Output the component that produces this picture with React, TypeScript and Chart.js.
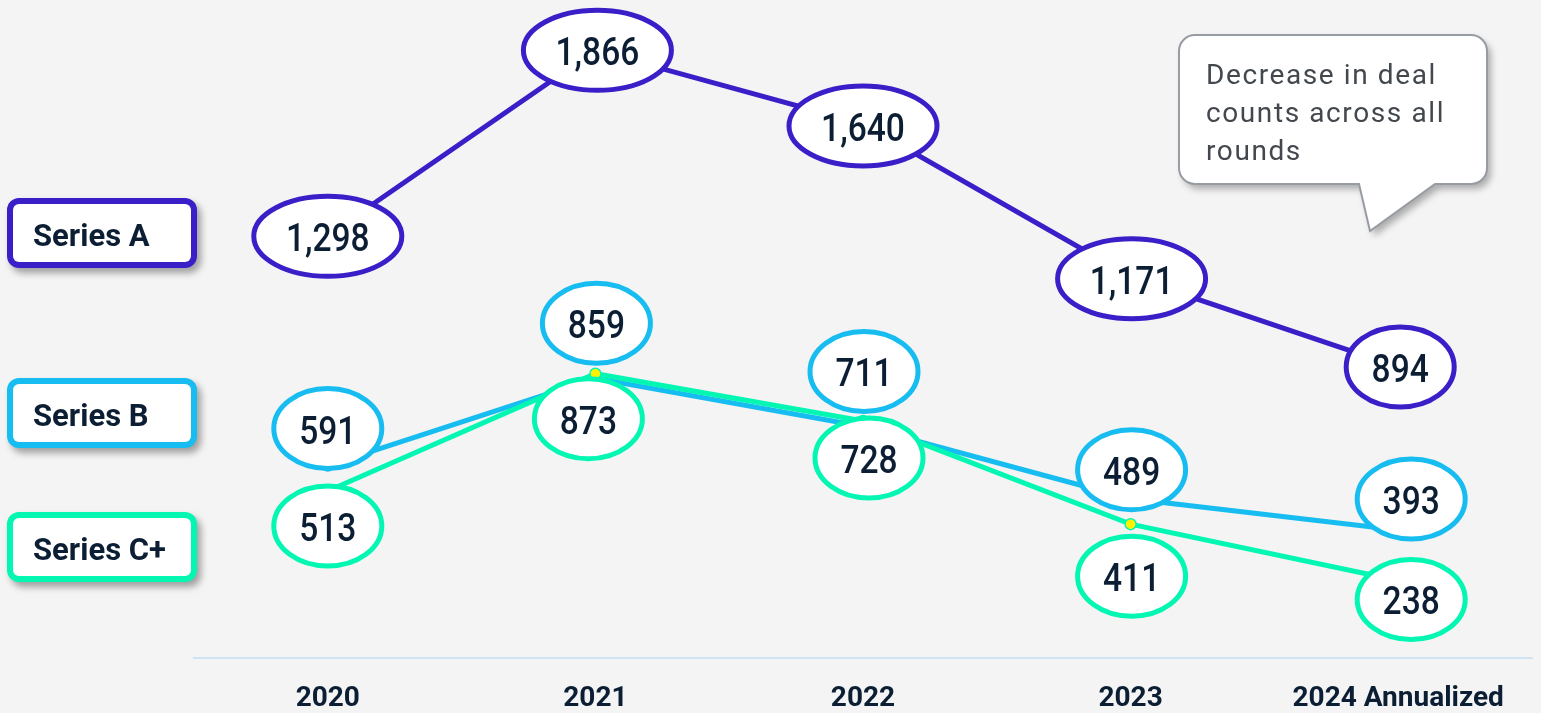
import React, { useEffect, useRef } from "react";
import { Chart, registerables } from "chart.js";

Chart.register(...registerables);

// ---------- data ----------
const categories = ["2020", "2021", "2022", "2023", "2024 Annualized"];
const seriesNames = ["Series A", "Series B", "Series C+"];
const seriesA = [1298, 1866, 1640, 1171, 894];
const seriesB = [591, 859, 711, 489, 393];
const seriesC = [513, 873, 728, 411, 238];
const calloutLines = ["Decrease in deal", "counts across all", "rounds"];

// ---------- layout / style ----------
const COLORS = ["#3a1ec8", "#17bdf0", "#03f7b3"];
const TEXT_DARK = "#0c1e33";
const BG = "#f4f4f4";
// label bubble offsets (px) from each plotted point
const labelOffsetsA = [[0, 1], [2, 0], [0, 2], [1, 2], [2, 0]];
const labelOffsetsB = [[0, -37], [1, -55], [1, -55], [1, -29], [13, -31]];
const labelOffsetsC = [[0, 35], [-7, 45], [6, 37], [1, 52], [13, 19]];
const legendTops = [198, 378, 512];
const X_AXIS_HEIGHT = 55;

const offsetsByName: Record<string, number[][]> = {
  [seriesNames[0]]: labelOffsetsA,
  [seriesNames[1]]: labelOffsetsB,
  [seriesNames[2]]: labelOffsetsC,
};
const colorByName: Record<string, string> = {
  [seriesNames[0]]: COLORS[0],
  [seriesNames[1]]: COLORS[1],
  [seriesNames[2]]: COLORS[2],
};

const fmt = (v: number) => v.toLocaleString("en-US");

const bubblePlugin = {
  id: "bubbles",
  afterDatasetsDraw(chart: any) {
    const ctx: CanvasRenderingContext2D = chart.ctx;
    const order = [seriesNames[0], seriesNames[1], seriesNames[2]];
    order.forEach((name) => {
      const dsIndex = chart.data.datasets.findIndex((d: any) => d.label === name);
      if (dsIndex < 0) return;
      const meta = chart.getDatasetMeta(dsIndex);
      const data = chart.data.datasets[dsIndex].data as number[];
      const offs = offsetsByName[name];
      const color = colorByName[name];
      meta.data.forEach((pt: any, i: number) => {
        const text = fmt(data[i]);
        const cx = pt.x + offs[i][0];
        const cy = pt.y + offs[i][1];
        const rx = text.length > 3 ? 74 : 54;
        const ry = 40;
        ctx.save();
        ctx.beginPath();
        ctx.ellipse(cx, cy, rx, ry, 0, 0, Math.PI * 2);
        ctx.fillStyle = "#ffffff";
        ctx.fill();
        ctx.lineWidth = 5;
        ctx.strokeStyle = color;
        ctx.stroke();
        ctx.fillStyle = TEXT_DARK;
        ctx.font = "500 39px Roboto";
        ctx.textAlign = "center";
        ctx.textBaseline = "alphabetic";
        const w = ctx.measureText(text).width;
        ctx.fillText(text, cx, cy + 15, w * 0.86);
        ctx.restore();
      });
    });
  },
};

const decorPlugin = {
  id: "decor",
  afterDraw(chart: any) {
    const ctx: CanvasRenderingContext2D = chart.ctx;
    // legend boxes
    seriesNames.forEach((name, i) => {
      const top = legendTops[i];
      ctx.save();
      ctx.shadowColor = "rgba(0,0,0,0.35)";
      ctx.shadowBlur = 7;
      ctx.shadowOffsetX = 4;
      ctx.shadowOffsetY = 5;
      ctx.beginPath();
      (ctx as any).roundRect(7, top, 190, 70, 12);
      ctx.fillStyle = COLORS[i];
      ctx.fill();
      ctx.restore();
      ctx.save();
      ctx.beginPath();
      (ctx as any).roundRect(13, top + 6, 178, 58, 6);
      ctx.fillStyle = "#ffffff";
      ctx.fill();
      ctx.fillStyle = TEXT_DARK;
      ctx.font = "700 31px Roboto";
      ctx.textAlign = "left";
      ctx.textBaseline = "alphabetic";
      ctx.fillText(name, 33, top + 48);
      ctx.restore();
    });

    // callout bubble
    const x1 = 1179, y1 = 35, x2 = 1487, y2 = 184, r = 16;
    const path = () => {
      ctx.beginPath();
      ctx.moveTo(x1 + r, y1);
      ctx.lineTo(x2 - r, y1);
      ctx.arcTo(x2, y1, x2, y1 + r, r);
      ctx.lineTo(x2, y2 - r);
      ctx.arcTo(x2, y2, x2 - r, y2, r);
      ctx.lineTo(1435, y2);
      ctx.lineTo(1370, 231);
      ctx.lineTo(1359, y2);
      ctx.lineTo(x1 + r, y2);
      ctx.arcTo(x1, y2, x1, y2 - r, r);
      ctx.lineTo(x1, y1 + r);
      ctx.arcTo(x1, y1, x1 + r, y1, r);
      ctx.closePath();
    };
    ctx.save();
    ctx.shadowColor = "rgba(0,0,0,0.3)";
    ctx.shadowBlur = 7;
    ctx.shadowOffsetX = 4;
    ctx.shadowOffsetY = 5;
    path();
    ctx.fillStyle = "#ffffff";
    ctx.fill();
    ctx.restore();
    ctx.save();
    path();
    ctx.lineWidth = 2;
    ctx.strokeStyle = "#979ca3";
    ctx.stroke();
    ctx.fillStyle = "#43484e";
    ctx.font = "400 28px Roboto";
    (ctx as any).letterSpacing = "1.6px";
    ctx.textAlign = "left";
    ctx.textBaseline = "alphabetic";
    calloutLines.forEach((line, i) => {
      ctx.fillText(line, 1206, 84 + i * 38);
    });
    ctx.restore();
  },
};

const lineDataset = (label: string, data: number[], color: string) => ({
  label,
  data,
  borderColor: color,
  backgroundColor: color,
  borderWidth: 5,
  tension: 0,
  fill: false,
  pointRadius: 5.5,
  pointBackgroundColor: "#fff200",
  pointBorderColor: color,
  pointBorderWidth: 1.5,
});

export default function App() {
  const ref = useRef<HTMLCanvasElement>(null);
  useEffect(() => {
    const canvas = ref.current!;
    const chart = new Chart(canvas, {
      type: "line",
      data: {
        labels: categories,
        // drawn last-to-first: first dataset ends up on top
        datasets: [
          lineDataset(seriesNames[0], seriesA, COLORS[0]),
          lineDataset(seriesNames[2], seriesC, COLORS[2]),
          lineDataset(seriesNames[1], seriesB, COLORS[1]),
        ],
      },
      options: {
        animation: false,
        responsive: true,
        maintainAspectRatio: false,
        layout: {
          autoPadding: false,
          padding: { left: 194, right: 9, top: 23, bottom: 0 },
        },
        plugins: {
          legend: { display: false },
          tooltip: { enabled: false },
        },
        scales: {
          y: { display: false, min: 0, max: 1950 },
          x: {
            offset: true,
            grid: { display: false, drawTicks: false },
            border: { display: true, color: "#cfe3f3", width: 2 },
            afterFit: (scale: any) => {
              scale.height = X_AXIS_HEIGHT;
            },
            ticks: {
              padding: 24,
              color: TEXT_DARK,
              font: { family: "Roboto", size: 28, weight: "bold" },
              maxRotation: 0,
              autoSkip: false,
            },
          },
        },
      } as any,
      plugins: [bubblePlugin, decorPlugin],
    });
    return () => chart.destroy();
  }, []);
  return (
    <div
      style={{
        position: "fixed",
        left: 0,
        top: 0,
        width: 1541,
        height: 713,
        background: BG,
      }}
    >
      <canvas ref={ref} />
    </div>
  );
}
